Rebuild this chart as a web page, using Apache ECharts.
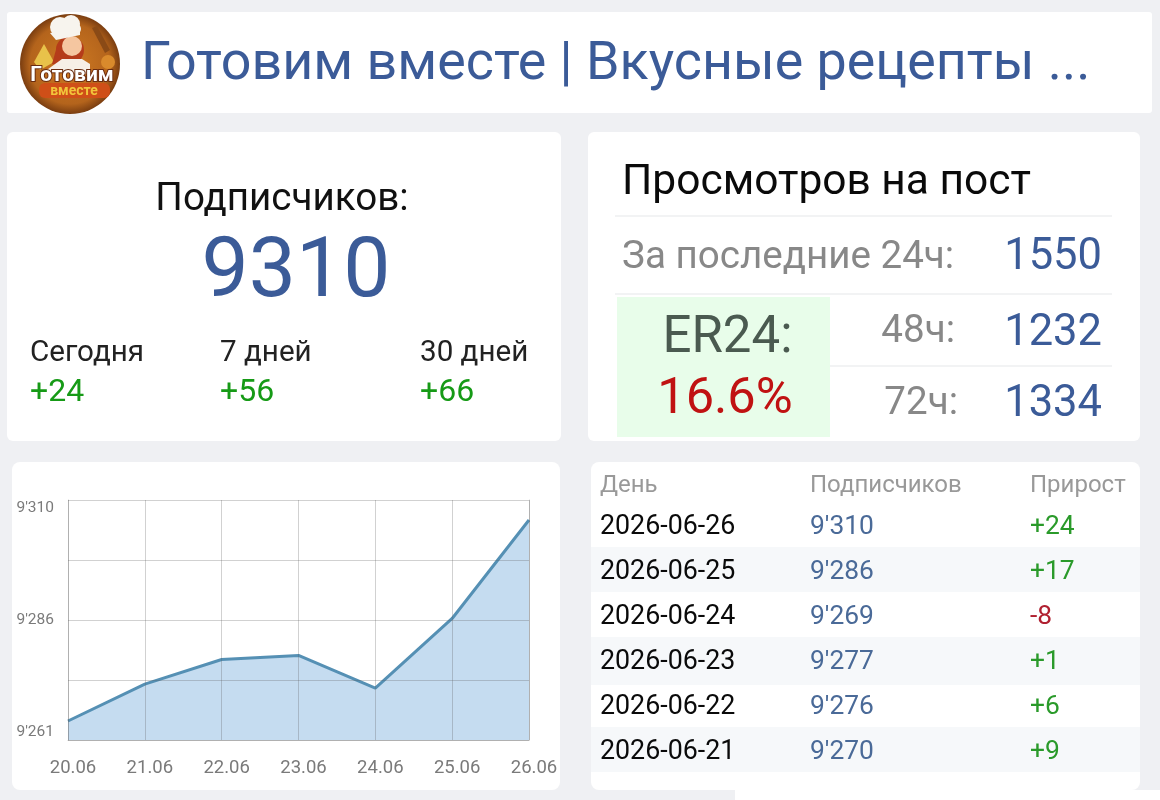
<!DOCTYPE html>
<html>
<head>
  <meta charset="utf-8">
  <title>Готовим вместе</title>
  <script src="https://cdn.jsdelivr.net/npm/echarts@6/dist/echarts.min.js"></script>
  <style>
    html, body { margin: 0; padding: 0; background: #eff0f3; }
    #main { width: 1160px; height: 800px; }
  </style>
</head>
<body>
<div id="main"></div>
<script type="text/javascript">
// chart data
var chartDays = ['20.06', '21.06', '22.06', '23.06', '24.06', '25.06', '26.06'];
var chartSubs = [9261, 9270, 9276, 9277, 9269, 9286, 9310];
var yTickLabels = ["9'261", '', "9'286", '', "9'310"];

// table data
var tableHead = ['День', 'Подписчиков', 'Прирост'];
var tableDays = ['2026-06-26', '2026-06-25', '2026-06-24', '2026-06-23', '2026-06-22', '2026-06-21'];
var tableSubs = ["9'310", "9'286", "9'269", "9'277", "9'276", "9'270"];
var tableGain = ['+24', '+17', '-8', '+1', '+6', '+9'];

// summary numbers
var channelTitle = 'Готовим вместе | Вкусные рецепты ...';
var subsTotal = '9310';
var periodNames = ['Сегодня', '7 дней', '30 дней'];
var periodGain = ['+24', '+56', '+66'];
var viewNames = ['За последние 24ч:', '48ч:', '72ч:'];
var viewValues = ['1550', '1232', '1334'];
var erValue = '16.6%';

var FONT = 'Roboto';
var BLUE = '#3b5b98';
var GREEN = '#169a16';
var RED = '#c01212';

function box(x, y, w, h, color, r) {
  return { type: 'rect', silent: true, z: 1, shape: { x: x, y: y, width: w, height: h, r: r || 0 }, style: { fill: color } };
}
function txt(x, y, text, size, color, align, extra) {
  var style = { x: x, y: y, text: text, fontFamily: FONT, fontSize: size, fill: color, align: align || 'left', verticalAlign: 'middle' };
  for (var k in extra) style[k] = extra[k];
  return { type: 'text', silent: true, z: 3, style: style };
}
function shape(type, sh, fill, z) {
  return { type: type, silent: true, z: z || 2, shape: sh, style: { fill: fill } };
}

var g = [];
// artefact strip under the table
g.push(box(735, 790, 425, 10, '#ffffff'));
// cards
g.push(box(7, 12, 1145, 101, '#ffffff', 3));
g.push(box(7, 132, 554, 309, '#ffffff', 6));
g.push(box(588, 132, 552, 309, '#ffffff', 6));
g.push(box(12, 462, 548, 328, '#ffffff', 8));
g.push(box(591, 462, 549, 328, '#ffffff', 8));

// logo
g.push(shape('circle', { cx: 70, cy: 64, r: 50 }, {
  type: 'radial', x: 0.5, y: 0.5, r: 0.5,
  colorStops: [{ offset: 0, color: '#cf7a22' }, { offset: 0.8, color: '#b4641c' }, { offset: 1, color: '#7a3d10' }]
}));
g.push(shape('polygon', { points: [[34, 62], [44, 44], [54, 62], [40, 70]] }, '#e8c24a'));
g.push(shape('polygon', { points: [[92, 28], [97, 26], [110, 50], [105, 53]] }, '#8a4a16'));
g.push(shape('circle', { cx: 108, cy: 62, r: 7 }, '#d98a2c'));
g.push(shape('circle', { cx: 70, cy: 50, r: 14 }, '#b53c1a'));
g.push(shape('polygon', { points: [[57, 46], [52, 64], [64, 66]] }, '#b53c1a'));
g.push(shape('circle', { cx: 72, cy: 46, r: 10 }, '#f5c6a0'));
g.push(shape('polygon', { points: [[44, 72], [62, 59], [82, 59], [90, 64], [90, 74]] }, '#f6efe6'));
g.push(shape('circle', { cx: 60, cy: 27, r: 10 }, '#f7f4ee'));
g.push(shape('circle', { cx: 71, cy: 24, r: 9 }, '#f7f4ee'));
g.push(shape('circle', { cx: 75, cy: 29, r: 6 }, '#f7f4ee'));
g.push(shape('polygon', { points: [[50, 33], [80, 27], [80, 35], [56, 40]] }, '#f7f4ee'));
g.push({ type: 'rect', silent: true, z: 2, shape: { x: 39, y: 83, width: 71, height: 15, r: 6 }, style: { fill: '#cf4f18' } });
g.push(txt(72, 76, 'Готовим', 21, '#ffffff', 'center', { fontWeight: 'bold', stroke: '#6a2c10', lineWidth: 2 }));
g.push(txt(74, 91, 'вместе', 14, '#f2c53a', 'center', { fontWeight: 'bold' }));

// header
g.push(txt(141, 66, channelTitle, 53.8, BLUE));

// subscribers card
g.push(txt(282, 200, 'Подписчиков:', 38.6, '#111111', 'center'));
g.push(txt(296, 275, subsTotal, 84, BLUE, 'center'));
var periodX = [30, 220, 420];
for (var i = 0; i < 3; i++) {
  g.push(txt(periodX[i], 354, periodNames[i], 29.6, '#222222'));
  g.push(txt(periodX[i], 393, periodGain[i], 32, GREEN));
}

// views card
g.push(txt(622, 183, 'Просмотров на пост', 42.5, '#0a0a0a'));
g.push(box(615, 215, 497, 2, '#f2f3f4'));
g.push(box(615, 293, 497, 2, '#f2f3f4'));
g.push(box(830, 365, 282, 2, '#f2f3f4'));
g.push(box(617, 297, 213, 140, '#e8fdea'));
g.push(txt(622, 258, viewNames[0], 38.6, '#888888'));
g.push(txt(955, 332, viewNames[1], 38.6, '#888888', 'right'));
g.push(txt(958, 404, viewNames[2], 38.6, '#888888', 'right'));
var viewY = [258, 334, 405];
for (var j = 0; j < 3; j++) g.push(txt(1102, viewY[j], viewValues[j], 43.5, BLUE, 'right'));
g.push(txt(727.5, 339, 'ER24:', 51, '#4a5a50', 'center'));
g.push(txt(725, 400, erValue, 50.5, RED, 'center'));

// table
var colX = [600, 810, 1030];
for (var c = 0; c < 3; c++) g.push(txt(colX[c], 486, tableHead[c], 24, '#999999'));
g.push(box(591, 547, 549, 45, '#f6f8fa'));
g.push(box(591, 637, 549, 48, '#f6f8fa'));
g.push(box(591, 727, 549, 45, '#f6f8fa'));
for (var r = 0; r < tableDays.length; r++) {
  var y = 527 + r * 45;
  g.push(txt(colX[0], y, tableDays[r], 26.8, '#0a0a0a'));
  g.push(txt(colX[1], y, tableSubs[r], 26.4, '#4a6a98'));
  g.push(txt(colX[2], y, tableGain[r], 26.4, tableGain[r].charAt(0) === '-' ? '#b02030' : '#2a9a2a'));
}

var gridColor = 'rgba(90,90,90,0.28)';
var myChart = echarts.init(document.getElementById('main'), null, { renderer: 'canvas' });
myChart.setOption({
  animation: false,
  backgroundColor: '#eff0f3',
  graphic: { elements: g },
  grid: { left: 68, top: 500, width: 461, height: 240, containLabel: false },
  xAxis: {
    type: 'category',
    z: 6,
    boundaryGap: false,
    data: chartDays,
    axisLine: { show: true, lineStyle: { color: gridColor, width: 1 } },
    axisTick: { show: false },
    splitLine: { show: true, lineStyle: { color: gridColor, width: 1 } },
    axisLabel: { color: '#7a7a7a', fontFamily: FONT, fontSize: 18.5, margin: 19, padding: [0, 0, 0, 10], showMinLabel: true, showMaxLabel: true, interval: 0 }
  },
  yAxis: [{
    // gridlines and the three labels sit on evenly spaced slots
    type: 'category',
    z: 6,
    boundaryGap: false,
    data: yTickLabels,
    axisLine: { show: true, lineStyle: { color: gridColor, width: 1 } },
    axisTick: { show: false },
    splitLine: { show: true, interval: 0, lineStyle: { color: gridColor, width: 1 } },
    axisLabel: { color: '#7a7a7a', fontFamily: FONT, fontSize: 15.5, margin: 14, interval: 0, verticalAlignMinLabel: 'bottom', verticalAlignMaxLabel: 'top' }
  }, {
    type: 'value',
    z: 6,
    position: 'right',
    min: 9256.37,
    max: 9314.88,
    axisLine: { show: true, lineStyle: { color: gridColor, width: 1 } },
    axisTick: { show: false },
    axisLabel: { show: false },
    splitLine: { show: false }
  }],
  series: [{
    type: 'line',
    yAxisIndex: 1,
    data: chartSubs,
    symbol: 'none',
    smooth: false,
    lineStyle: { color: '#5590b4', width: 3 },
    areaStyle: { color: '#c5dcf0', opacity: 1 },
    z: 5
  }]
});
</script>
</body>
</html>
